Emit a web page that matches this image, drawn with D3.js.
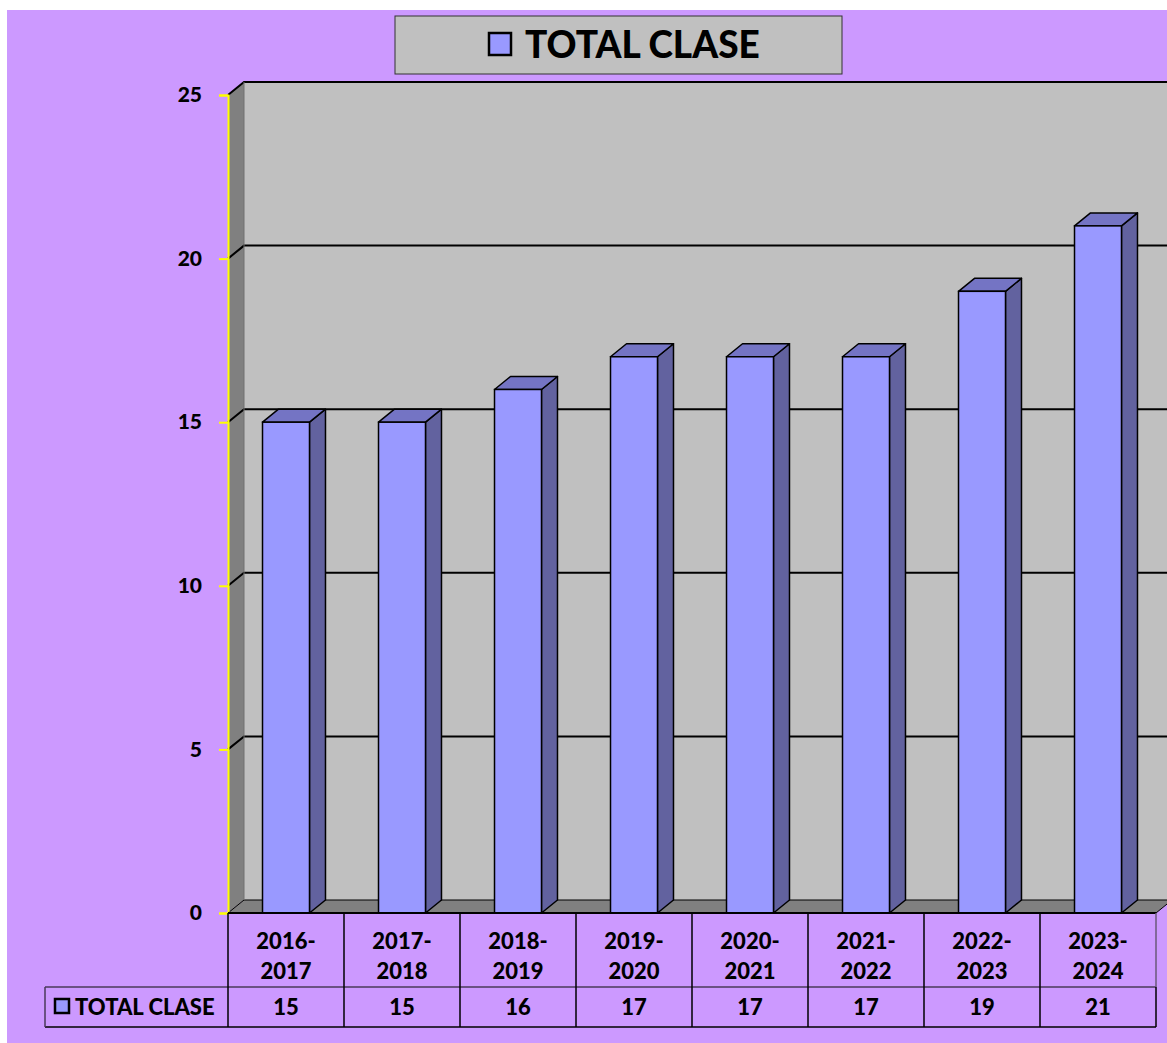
<!DOCTYPE html>
<html>
<head>
<meta charset="utf-8">
<script src="https://cdn.jsdelivr.net/npm/d3@7"></script>
<style>
  html, body { margin: 0; padding: 0; background: #fff; }
  svg { display: block; }
  text { font-family: Lato, "Liberation Sans", sans-serif; font-weight: 900; }
</style>
</head>
<body>
<svg width="1167" height="1043"></svg>
<script>
const categories = ["2016-2017", "2017-2018", "2018-2019", "2019-2020", "2020-2021", "2021-2022", "2022-2023", "2023-2024"];
const totalClase = [15, 15, 16, 17, 17, 17, 19, 21];
const yTicks = [0, 5, 10, 15, 20, 25];
const seriesName = "TOTAL CLASE";

const svg = d3.select("svg");
const W = 1167, H = 1043;
const dx = 16, dy = -13;   // 3d depth offset

const x = d3.scaleBand().domain(categories).range([228, 1156])
    .paddingInner(0.595).paddingOuter(0.2975);
const col = d3.scaleBand().domain(categories).range([228, 1156]);
const y = d3.scaleLinear().domain([0, 25]).range([913, 95]);

// background
svg.append("rect").attr("x", 7).attr("y", 10).attr("width", W - 7).attr("height", H - 10)
    .attr("fill", "#CC99FF");

// back wall
svg.append("rect").attr("x", 228 + dx).attr("y", y(25) + dy)
    .attr("width", W - 228 - dx).attr("height", y(0) - y(25))
    .attr("fill", "#C0C0C0");
// left wall
svg.append("polygon")
    .attr("points", [[228, y(25)], [228 + dx, y(25) + dy], [228 + dx, y(0) + dy], [228, y(0)]].join(" "))
    .attr("fill", "#808080");
// floor
svg.append("polygon")
    .attr("points", [[228, y(0)], [1156, y(0)], [1156 + dx, y(0) + dy], [228 + dx, y(0) + dy]].join(" "))
    .attr("fill", "#808080").attr("stroke", "#000").attr("stroke-width", 1);

// gridlines
const grid = svg.append("g");
yTicks.filter(v => v > 0).forEach(v => {
  grid.append("path")
    .attr("d", `M228,${y(v)}L${228 + dx},${y(v) + dy}H${W}`)
    .attr("fill", "none").attr("stroke", "#000").attr("stroke-width", 2);
});
svg.append("line").attr("x1", 228 + dx).attr("x2", 228 + dx)
    .attr("y1", y(25) + dy).attr("y2", y(0) + dy).attr("stroke", "#707070");

// bars
const bw = x.bandwidth();
const bars = svg.append("g").selectAll("g").data(categories).join("g");
bars.append("polygon")
  .attr("points", (c, i) => {
    const x0 = x(c) + bw, t = y(totalClase[i]), b = y(0);
    return [[x0, t], [x0 + dx, t + dy], [x0 + dx, b + dy], [x0, b]].join(" ");
  })
  .attr("fill", "#62629F").attr("stroke", "#000").attr("stroke-width", 1.5).attr("stroke-linejoin", "round");
bars.append("polygon")
  .attr("points", (c, i) => {
    const x0 = x(c), t = y(totalClase[i]);
    return [[x0, t], [x0 + dx, t + dy], [x0 + bw + dx, t + dy], [x0 + bw, t]].join(" ");
  })
  .attr("fill", "#7474C4").attr("stroke", "#000").attr("stroke-width", 1.5).attr("stroke-linejoin", "round");
bars.append("rect")
  .attr("x", c => x(c)).attr("y", (c, i) => y(totalClase[i]))
  .attr("width", bw).attr("height", (c, i) => y(0) - y(totalClase[i]))
  .attr("fill", "#9999FF").attr("stroke", "#000").attr("stroke-width", 1.5);

// y axis
const yAxis = svg.append("g").attr("transform", "translate(228,0)")
  .call(d3.axisLeft(y).tickValues(yTicks).tickSize(9).tickPadding(17));
yAxis.select(".domain").attr("stroke", "#FFFF00").attr("stroke-width", 2);
yAxis.selectAll(".tick line").attr("stroke", "#FFFF00").attr("stroke-width", 2);
yAxis.selectAll(".tick text").attr("fill", "#000").attr("font-size", 21)
  .attr("font-family", "Lato, sans-serif").attr("font-weight", 900);

// data table
const table = svg.append("g");
const rowTop = y(0), rowMid = 987, rowBot = 1027;
table.append("line").attr("x1", 228).attr("x2", 1156).attr("y1", rowTop).attr("y2", rowTop)
  .attr("stroke", "#000").attr("stroke-width", 2);
table.append("line").attr("x1", 45).attr("x2", 1156).attr("y1", rowMid).attr("y2", rowMid)
  .attr("stroke", "#4a3a5a").attr("stroke-width", 1.5);
table.append("line").attr("x1", 45).attr("x2", 1156).attr("y1", rowBot).attr("y2", rowBot)
  .attr("stroke", "#000").attr("stroke-width", 1.5);
table.append("line").attr("x1", 45).attr("x2", 45).attr("y1", rowMid).attr("y2", rowBot)
  .attr("stroke", "#4a3a5a").attr("stroke-width", 1.5);
categories.forEach(c => {
  table.append("line").attr("x1", col(c)).attr("x2", col(c)).attr("y1", rowTop).attr("y2", rowBot)
    .attr("stroke", "#000").attr("stroke-width", 1.5);
});
table.append("line").attr("x1", 1156).attr("x2", 1156).attr("y1", rowTop).attr("y2", rowMid)
  .attr("stroke", "#6a5a7a").attr("stroke-width", 1.5);
table.append("line").attr("x1", 1156).attr("x2", 1156).attr("y1", rowMid).attr("y2", rowBot)
  .attr("stroke", "#000").attr("stroke-width", 1.5);

const catText = table.selectAll("text.cat").data(categories).join("text")
  .attr("class", "cat")
  .attr("x", c => col(c) + col.bandwidth() / 2)
  .attr("text-anchor", "middle").attr("font-size", 22).attr("fill", "#000");
catText.append("tspan").attr("x", c => col(c) + col.bandwidth() / 2).attr("y", 949)
  .text(c => c.split("-")[0] + "-");
catText.append("tspan").attr("x", c => col(c) + col.bandwidth() / 2).attr("y", 979)
  .text(c => c.split("-")[1]);

table.selectAll("text.val").data(totalClase).join("text")
  .attr("class", "val")
  .attr("x", (v, i) => col(categories[i]) + col.bandwidth() / 2).attr("y", 1015)
  .attr("text-anchor", "middle").attr("font-size", 22).attr("fill", "#000")
  .text(v => v);

table.append("rect").attr("x", 55).attr("y", 999).attr("width", 14).attr("height", 14)
  .attr("fill", "#9999FF").attr("stroke", "#000").attr("stroke-width", 2.5);
table.append("text").attr("x", 75).attr("y", 1015).attr("font-size", 22).attr("fill", "#000")
  .text(seriesName);

// legend / title box
const leg = svg.append("g");
leg.append("rect").attr("x", 395).attr("y", 16).attr("width", 447).attr("height", 58)
  .attr("fill", "#C0C0C0").attr("stroke", "#333").attr("stroke-width", 1);
leg.append("rect").attr("x", 489).attr("y", 33).attr("width", 22).attr("height", 22)
  .attr("fill", "#9999FF").attr("stroke", "#000").attr("stroke-width", 2.5);
leg.append("text").attr("x", 525).attr("y", 58).attr("font-size", 37).attr("fill", "#000")
  .text(seriesName);
</script>
</body>
</html>
